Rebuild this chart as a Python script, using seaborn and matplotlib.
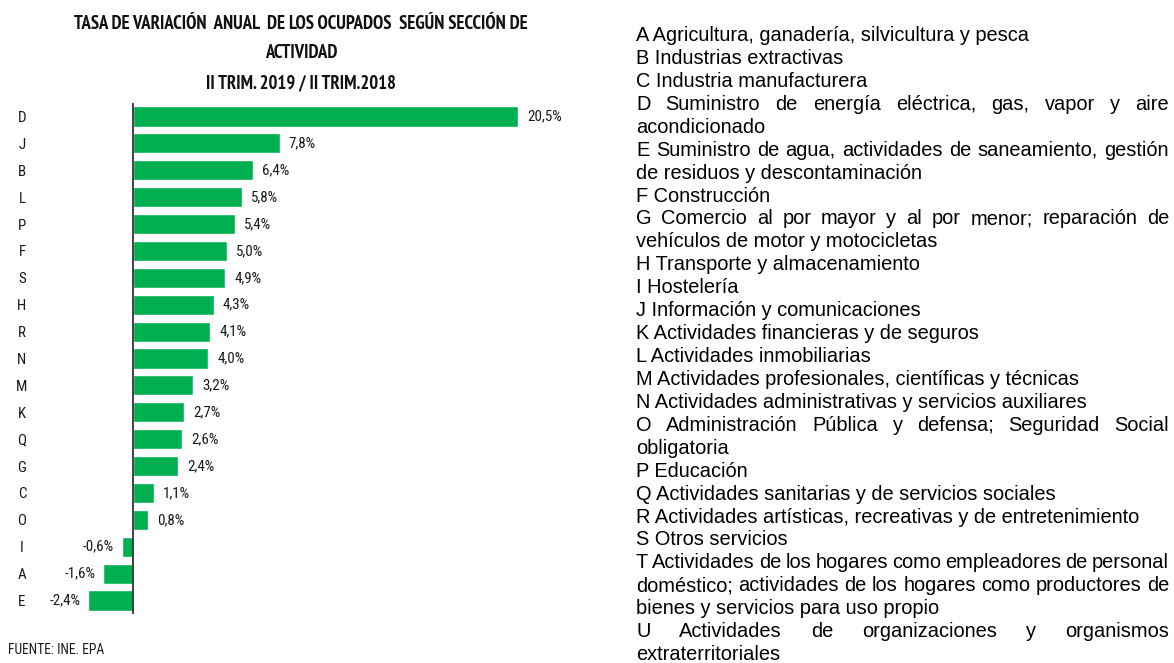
import matplotlib
matplotlib.use("Agg")
import matplotlib.pyplot as plt
import seaborn as sns
from matplotlib import font_manager
from matplotlib.font_manager import FontProperties
from matplotlib.textpath import TextPath

# ---------------- data ----------------
categories = ["D", "J", "B", "L", "P", "F", "S", "H", "R", "N",
              "M", "K", "Q", "G", "C", "O", "I", "A", "E"]
values = [20.5, 7.8, 6.4, 5.8, 5.4, 5.0, 4.9, 4.3, 4.1, 4.0,
          3.2, 2.7, 2.6, 2.4, 1.1, 0.8, -0.6, -1.6, -2.4]
value_labels = [f"{v:.1f}%".replace(".", ",") for v in values]

title_lines = ["TASA DE VARIACIÓN  ANUAL  DE LOS OCUPADOS  SEGÚN SECCIÓN DE",
               "ACTIVIDAD",
               "II TRIM. 2019 / II TRIM.2018"]
source_text = "FUENTE: INE. EPA"

legend_lines = [
    "A Agricultura, ganadería, silvicultura y pesca",
    "B Industrias extractivas",
    "C Industria manufacturera",
    "D Suministro de energía eléctrica, gas, vapor y aire",
    "acondicionado",
    "E Suministro de agua, actividades de saneamiento, gestión",
    "de residuos y descontaminación",
    "F Construcción",
    "G Comercio al por mayor y al por menor; reparación de",
    "vehículos de motor y motocicletas",
    "H Transporte y almacenamiento",
    "I Hostelería",
    "J Información y comunicaciones",
    "K Actividades financieras y de seguros",
    "L Actividades inmobiliarias",
    "M Actividades profesionales, científicas y técnicas",
    "N Actividades administrativas y servicios auxiliares",
    "O Administración Pública y defensa; Seguridad Social",
    "obligatoria",
    "P Educación",
    "Q Actividades sanitarias y de servicios sociales",
    "R Actividades artísticas, recreativas y de entretenimiento",
    "S Otros servicios",
    "T Actividades de los hogares como empleadores de personal",
    "doméstico; actividades de los hogares como productores de",
    "bienes y servicios para uso propio",
    "U Actividades de organizaciones y organismos",
    "extraterritoriales",
]
justified = [False, False, False, True, False, True, False, False, True, False,
             False, False, False, False, False, False, False, True, False, False,
             False, False, False, True, True, False, True, False]

# ---------------- style ----------------
sns.set_theme(style="white")
plt.rcParams["font.family"] = ["Liberation Sans", "DejaVu Sans"]

names = {f.name for f in font_manager.fontManager.ttflist}
NARROW = dict(family="DejaVu Sans", fontstretch="condensed")
for cand in ["Roboto Condensed", "Liberation Sans Narrow", "Open Sans Condensed"]:
    if cand in names:
        NARROW = dict(family=cand)
        break

# choose a bold condensed title face whose cap height best matches (13 px at 453 px width)
TITLE_W, TITLE_CAP = 453.0, 13.0
title_cands = ["Barlow Condensed", "Sofia Sans Condensed", "Roboto Condensed", "Saira Condensed",
               "Archivo Narrow", "PT Sans Narrow", "Fira Sans Condensed",
               "Encode Sans Condensed", "IBM Plex Sans Condensed", "Open Sans Condensed"]
best = None
for cand in title_cands:
    if cand not in names:
        continue
    try:
        fp = FontProperties(family=cand, weight="bold")
        wpts = TextPath((0, 0), title_lines[0], size=10, prop=fp).get_extents().width
        cap = TextPath((0, 0), "H", size=10, prop=fp).get_extents().height
        # size in px giving the target width
        s_px = 10 * TITLE_W / wpts
        cap_px = cap * s_px / 10
        err = abs(cap_px - TITLE_CAP)
        if best is None or err < best[0]:
            best = (err, cand, s_px)
    except Exception:
        pass
TITLE_FAMILY = best[1] if best else NARROW.get("family")

W, H, DPI = 1174, 663, 100
fig = plt.figure(figsize=(W / DPI, H / DPI), dpi=DPI)
fig.patch.set_facecolor("white")

GREEN = "#00B050"
TXT = "#1a1a1a"

ax_left, ax_right = 40, 600
ax_top, ax_bot = 103, 614
ax = fig.add_axes([ax_left / W, 1 - ax_bot / H, (ax_right - ax_left) / W, (ax_bot - ax_top) / H])
sns.barplot(x=values, y=categories, orient="h", color=GREEN, saturation=1,
            width=0.75, ax=ax)
scale = 18.8
ax.set_xlim((ax_left - 133) / scale, (ax_right - 133) / scale)
ax.set_ylim(len(categories) - 0.5, -0.5)
for s in ax.spines.values():
    s.set_visible(False)
ax.set_facecolor("none")
ax.set_xticks([])
ax.set_xlabel("")
ax.set_ylabel("")
ax.axvline(0, color="#333333", lw=1.3)
ax.set_yticks(range(len(categories)))
ax.set_yticklabels(categories, fontsize=10.8, color=TXT, **NARROW)
ax.tick_params(axis="y", length=0, pad=(ax_left - 22) * 72 / DPI)
for lbl in ax.get_yticklabels():
    lbl.set_horizontalalignment("center")

for i, (v, lab) in enumerate(zip(values, value_labels)):
    if v >= 0:
        ax.annotate(lab, (v, i), xytext=(6.5, 0), textcoords="offset points",
                    ha="left", va="center", fontsize=10.8, color=TXT, **NARROW)
    else:
        ax.annotate(lab, (v, i), xytext=(-5.5, 0), textcoords="offset points",
                    ha="right", va="center", fontsize=10.8, color=TXT, **NARROW)

renderer = fig.canvas.get_renderer()
title_y = [24, 53, 83]
t0 = fig.text(301 / W, 1 - title_y[0] / H, title_lines[0], ha="center", va="center",
              fontsize=11, fontweight="bold", color="#111111", family=TITLE_FAMILY)
w0 = t0.get_window_extent(renderer).width
tfs = 11 * TITLE_W / w0
t0.set_fontsize(tfs)
for line, yp in zip(title_lines[1:], title_y[1:]):
    fig.text(301 / W, 1 - yp / H, line, ha="center", va="center",
             fontsize=tfs, fontweight="bold", color="#111111", family=TITLE_FAMILY)

fig.text(8 / W, 1 - 650 / H, source_text, ha="left", va="center",
         fontsize=9.8, color=TXT, **NARROW)

LX0, LX1 = 636, 1169
FS = 14.4
for i, (line, just) in enumerate(zip(legend_lines, justified)):
    yf = 1 - (41 + 22.93 * i) / H
    if not just:
        fig.text(LX0 / W, yf, line, ha="left", va="baseline", fontsize=FS, color="black",
                 family="Liberation Sans")
        continue
    words = line.split()
    texts = [fig.text(0, yf, w, ha="left", va="baseline", fontsize=FS, color="black",
                      family="Liberation Sans") for w in words]
    widths = [t.get_window_extent(renderer).width for t in texts]
    gap = (LX1 - LX0 - sum(widths)) / (len(words) - 1)
    x = LX0
    for t, wd in zip(texts, widths):
        t.set_x(x / W)
        x += wd + gap

fig.savefig("out.png", dpi=DPI, facecolor="white")
